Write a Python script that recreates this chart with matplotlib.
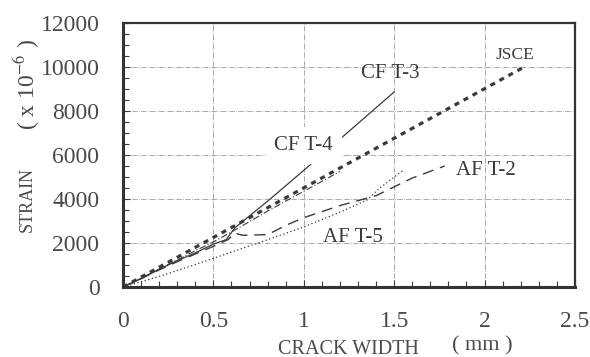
import matplotlib.pyplot as plt
from matplotlib.ticker import MultipleLocator

plt.rcParams['font.family'] = ['Liberation Serif', 'DejaVu Serif']
plt.rcParams['mathtext.fontset'] = 'stix'

# crack width (mm) / strain (x 10^-6)
jsce_x = [0, 2.22]
jsce_y = [0, 10000]

cft3_x = [0, 0.1, 0.2, 0.3, 0.4, 0.5, 0.57, 0.62, 0.8, 1.0, 1.22, 1.5]
cft3_y = [0, 380, 800, 1200, 1550, 1950, 2150, 2700, 3900, 5300, 6860, 8860]

cft4_x = [0, 0.1, 0.2, 0.3, 0.4, 0.5, 0.6, 0.8, 1.0, 1.2]
cft4_y = [0, 400, 820, 1230, 1650, 2050, 2500, 3450, 4350, 5250]

aft2_x = [0, 0.1, 0.2, 0.3, 0.4, 0.5, 0.58, 0.62, 0.66, 0.8, 0.9, 1.0, 1.2, 1.4, 1.5, 1.6, 1.78]
aft2_y = [0, 380, 780, 1150, 1500, 1850, 2150, 2450, 2350, 2380, 2800, 3150, 3700, 4150, 4550, 4950, 5500]

aft5_x = [0, 0.2, 0.4, 0.64, 0.8, 1.0, 1.2, 1.35, 1.42, 1.55]
aft5_y = [0, 480, 1020, 1700, 2150, 2730, 3400, 3950, 4500, 5300]

x_ticks = [0, 0.5, 1, 1.5, 2, 2.5]
x_labels = ['0', '0.5', '1', '1.5', '2', '2.5']
y_ticks = [0, 2000, 4000, 6000, 8000, 10000, 12000]

ink = '#3a3a3a'
txt = '#4a4a4a'

fig = plt.figure(figsize=(5.9, 3.57), dpi=100)
ax = fig.add_axes([0.2085, 0.196, 0.766, 0.74])

# grid
ax.grid(True, which='major', color='#9a9a9a', linestyle='-.', linewidth=0.6)

ax.plot(cft4_x, cft4_y, color=ink, lw=0.8, linestyle=(0, (6, 2, 1, 2)))
ax.plot(aft5_x, aft5_y, color=ink, lw=0.9, linestyle=(0, (1, 2)))
ax.plot(aft2_x, aft2_y, color=ink, lw=1.0, linestyle=(0, (8, 5)))
ax.plot(cft3_x, cft3_y, color=ink, lw=0.9)
ax.plot(jsce_x, jsce_y, color=ink, lw=2.3, linestyle=(0, (1.6, 1.6)))

lab = dict(color=ink, fontsize=15, ha='center', va='center')
ax.text(1.48, 9720, 'CF T-3', **lab)
ax.text(1.0, 6450, 'CF T-4', backgroundcolor='white', **lab)
ax.text(2.17, 10550, 'JSCE', color=ink, fontsize=12.5, ha='center', va='center')
ax.text(2.01, 5300, 'AF T-2', **lab)
ax.text(1.27, 2230, 'AF T-5', **lab)

ax.set_xlim(0, 2.5)
ax.set_ylim(0, 12000)
ax.set_xticks(x_ticks)
ax.set_xticklabels(x_labels)
ax.set_yticks(y_ticks)
ax.xaxis.set_minor_locator(MultipleLocator(0.1))
ax.yaxis.set_minor_locator(MultipleLocator(500))
ax.tick_params(which='both', direction='in', colors=ink, labelcolor=txt, labelsize=17)
ax.tick_params(which='major', length=5, width=0.8)
ax.tick_params(which='minor', length=4, width=0.8)
ax.tick_params(axis='x', which='major', pad=17)
ax.tick_params(axis='y', which='major', pad=17)

for s in ax.spines.values():
    s.set_color('#333333')
    s.set_linewidth(1.6)
ax.spines['left'].set_linewidth(2.2)
ax.spines['bottom'].set_linewidth(2.2)

# axis titles, placed in pixel positions of the original
fig.text(348 / 590, 1 - 349 / 357, 'CRACK WIDTH', fontsize=14.5, color=txt,
         ha='center', va='center')
fig.text(482 / 590, 1 - 346 / 357, '( mm )', fontsize=16, color=txt,
         ha='center', va='center')
fig.text(27 / 590, 1 - 200 / 357, 'STRAIN', fontsize=13, color=txt,
         ha='center', va='center', rotation=90)
fig.text(27 / 590, 1 - 85 / 357, r'( x 10$^{-6}$ )', fontsize=17, color=txt,
         ha='center', va='center', rotation=90)

fig.savefig('out.png', dpi=100)
